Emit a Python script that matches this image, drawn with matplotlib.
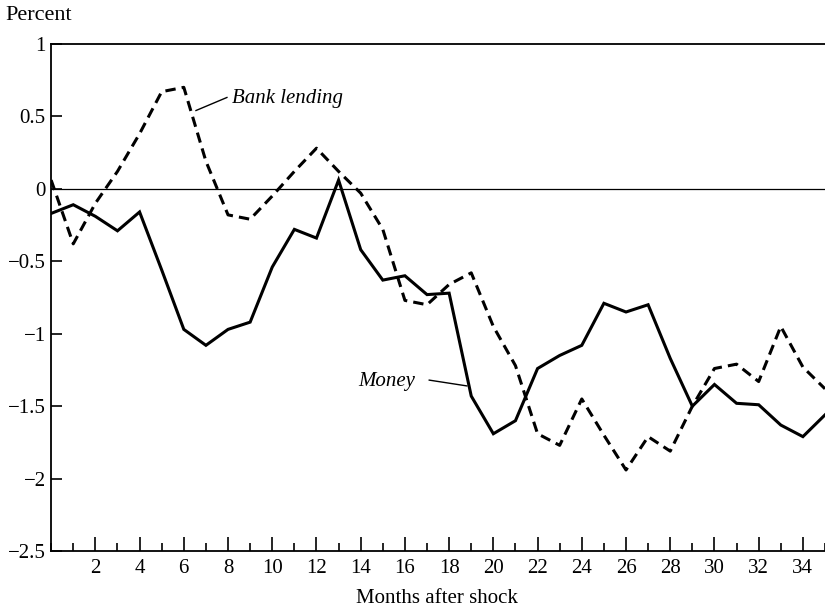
import numpy as np
import matplotlib
matplotlib.use("Agg")
import matplotlib.pyplot as plt
from matplotlib.ticker import MultipleLocator

plt.rcParams['font.family'] = ['Liberation Serif', 'DejaVu Serif']

# 冲击后月份
months = list(range(36))
# 货币 (实线)
money = [-0.17, -0.11, -0.19, -0.29, -0.16, -0.56, -0.97, -1.08, -0.97, -0.92,
         -0.54, -0.28, -0.34, 0.06, -0.42, -0.63, -0.60, -0.73, -0.72, -1.43,
         -1.69, -1.60, -1.24, -1.15, -1.08, -0.79, -0.85, -0.80, -1.17, -1.50,
         -1.35, -1.48, -1.49, -1.63, -1.71, -1.56]
# 银行贷款 (虚线)
bank_lending = [0.06, -0.38, -0.10, 0.12, 0.38, 0.67, 0.70, 0.19, -0.18, -0.21,
                -0.05, 0.12, 0.28, 0.12, -0.03, -0.28, -0.77, -0.80, -0.66, -0.58,
                -0.95, -1.22, -1.69, -1.77, -1.45, -1.70, -1.94, -1.71, -1.81, -1.50,
                -1.24, -1.21, -1.33, -0.95, -1.23, -1.38]

y_ticks = [1, 0.5, 0, -0.5, -1, -1.5, -2, -2.5]
y_labels = ['1', '0.5', '0', '\u22120.5', '\u22121', '\u22121.5', '\u22122', '\u22122.5']
x_ticks = list(range(2, 36, 2))

fig = plt.figure(figsize=(8.25, 6.09), dpi=100)
ax = fig.add_axes([0.062, 0.095, 0.938, 0.833])

ax.axhline(0, color='black', linewidth=0.9)
ax.plot(months, money, color='black', linewidth=2.2, solid_joinstyle='miter')
ax.plot(months, bank_lending, color='black', linewidth=2.2, dashes=(3.4, 2.0))

ax.set_xlim(0, 35)
ax.set_ylim(-2.5, 1)
ax.set_yticks(y_ticks)
ax.set_yticklabels(y_labels)
ax.set_xticks(x_ticks)
ax.xaxis.set_minor_locator(MultipleLocator(1))

ax.tick_params(axis='x', which='major', direction='in', length=10, width=1.2,
               labelsize=15, pad=6)
ax.tick_params(axis='x', which='minor', direction='in', length=6, width=1.2)
ax.tick_params(axis='y', which='major', direction='in', length=8, width=1.2,
               labelsize=15, pad=4)
ax.tick_params(top=False, right=False)

for s in ['left', 'bottom', 'top']:
    ax.spines[s].set_linewidth(1.3)
ax.spines['right'].set_visible(False)

# 标注
ax.plot([6.55, 7.95], [0.54, 0.63], color='black', linewidth=1.0)
ax.text(8.2, 0.625, 'Bank lending', style='italic', fontsize=15,
        ha='left', va='center')
ax.plot([17.1, 18.8], [-1.32, -1.36], color='black', linewidth=1.0)
ax.text(16.45, -1.33, 'Money', style='italic', fontsize=15,
        ha='right', va='center')

fig.text(0.006, 0.975, 'Percent', fontsize=16, ha='left', va='center')
fig.text(0.53, 0.018, 'Months after shock', fontsize=15, ha='center', va='center')

plt.savefig('out.png', dpi=100)
